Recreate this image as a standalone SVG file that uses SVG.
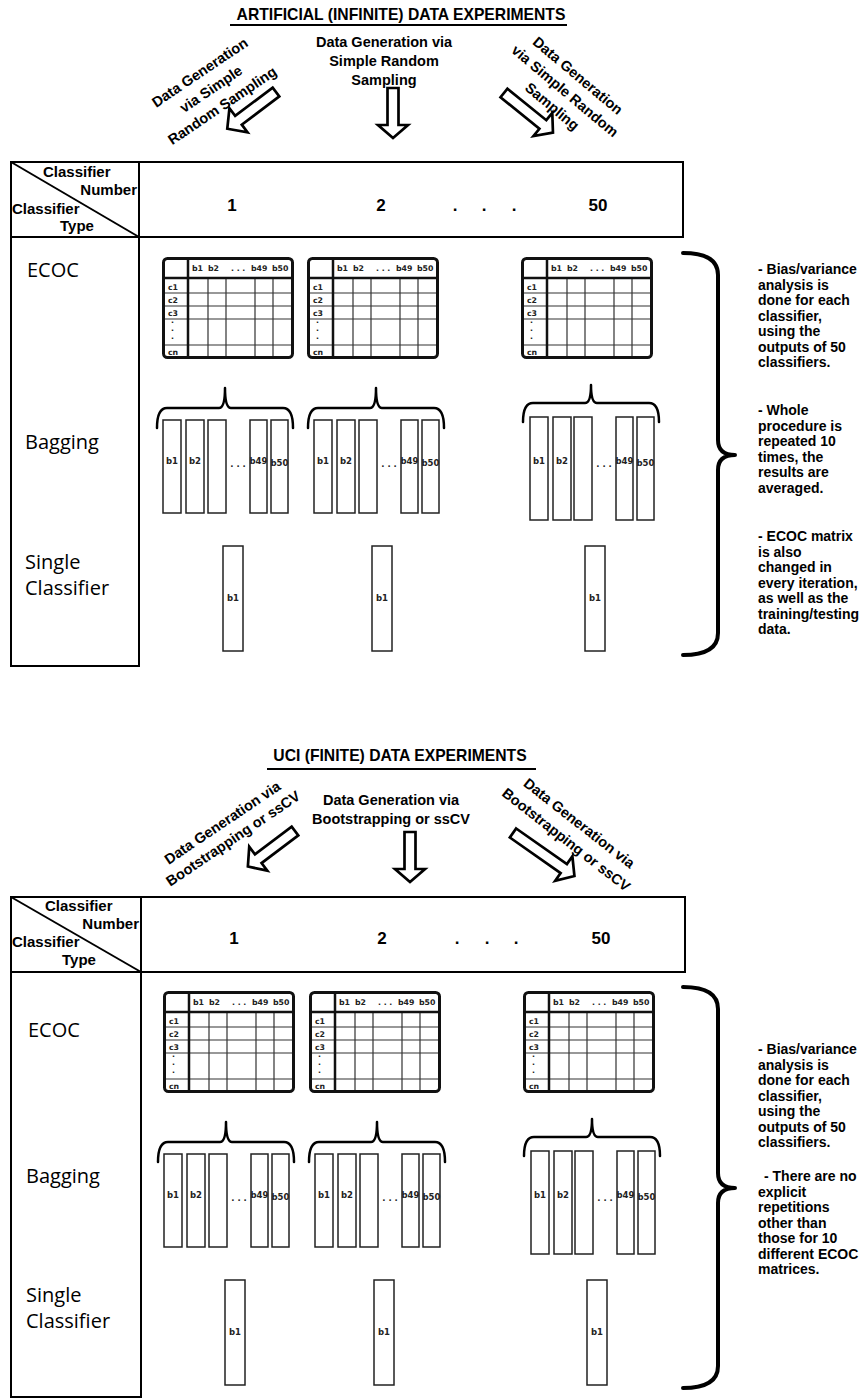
<svg xmlns="http://www.w3.org/2000/svg" width="865" height="1399" viewBox="0 0 865 1399">
<style>
text{font-family:"Liberation Sans",Arial,sans-serif;fill:#000}
.t{font-weight:bold;font-size:15.7px;text-anchor:middle}
.g{font-weight:bold;font-size:14.5px;text-anchor:middle}
.h{font-weight:bold;font-size:15px}
.n{font-weight:bold;font-size:17px;text-anchor:middle}
.r{font-weight:bold;font-size:14px}
.lab{font-family:"Open Sans","Noto Sans",sans-serif;font-size:20px}
.s{font-family:"DejaVu Sans",sans-serif;font-weight:bold;font-size:7.8px;fill:#222}
.sb{font-family:"DejaVu Sans",sans-serif;font-weight:bold;font-size:8.5px;fill:#222;text-anchor:middle}
.box{fill:none;stroke:#000;stroke-width:2}
.thin{fill:none;stroke:#333;stroke-width:1.2}
.thick{fill:none;stroke:#111;stroke-width:3}
.bar{fill:#fff;stroke:#222;stroke-width:1.5}
.brace{fill:none;stroke:#000;stroke-width:2.5;stroke-linecap:round;stroke-linejoin:round}
.big{fill:none;stroke:#000;stroke-width:4;stroke-linecap:round;stroke-linejoin:round}
.arr{fill:#fff;stroke:#000;stroke-width:2.7;stroke-linejoin:miter}
.ul{stroke:#000;stroke-width:2}
</style>
<defs>
<g id="ecoc">
<path class="thin" d="M0,36H132M0,49H132M0,62H132M0,88H132M46,21V102M64,21V102M93,21V102M111,21V102"/>
<path class="thick" style="stroke-width:2.5" d="M1,21H131M26,1V101"/>
<rect class="thick" x="1.5" y="1.5" width="129" height="99" rx="4"/>
<text class="s" x="30" y="14">b1</text>
<text class="s" x="46" y="14">b2</text>
<text class="s" x="69" y="14">. . .</text>
<text class="s" x="89" y="14">b49</text>
<text class="s" x="110" y="14">b50</text>
<text class="s" x="6" y="33">c1</text>
<text class="s" x="6" y="46">c2</text>
<text class="s" x="6" y="59">c3</text>
<text class="s" x="9" y="66">.</text>
<text class="s" x="9" y="74">.</text>
<text class="s" x="9" y="82">.</text>
<text class="s" x="6" y="98">cn</text>
</g>
<g id="bagA">
<path class="brace" d="M0,8 Q0,-12 10,-12 H62 Q68,-12 68,-32 Q68,-12 74,-12 H126 Q136,-12 136,8"/>
<rect class="bar" x="6" y="0" width="18" height="93"/>
<rect class="bar" x="29" y="0" width="18" height="93"/>
<rect class="bar" x="51" y="0" width="18" height="93"/>
<rect class="bar" x="93" y="0" width="17" height="93"/>
<rect class="bar" x="114" y="0" width="17" height="93"/>
<text class="sb" x="15" y="44">b1</text>
<text class="sb" x="38" y="44">b2</text>
<text class="sb" x="81" y="47">. . .</text>
<text class="sb" x="101.5" y="44">b49</text>
<text class="sb" x="122.5" y="46">b50</text>
</g>
<g id="bagB">
<path class="brace" d="M0,5 Q0,-14 10,-14 H62 Q68,-14 68,-32 Q68,-14 74,-14 H126 Q136,-14 136,5"/>
<rect class="bar" x="7" y="0" width="18" height="103"/>
<rect class="bar" x="30" y="0" width="18" height="103"/>
<rect class="bar" x="51" y="0" width="18" height="103"/>
<rect class="bar" x="93" y="0" width="17" height="103"/>
<rect class="bar" x="114" y="0" width="17" height="103"/>
<text class="sb" x="16" y="47">b1</text>
<text class="sb" x="39" y="47">b2</text>
<text class="sb" x="81" y="50">. . .</text>
<text class="sb" x="101.5" y="47">b49</text>
<text class="sb" x="122.5" y="49">b50</text>
</g>
<g id="single">
<rect class="bar" x="0" y="0" width="20" height="105"/>
<text class="sb" x="10" y="55">b1</text>
</g>
</defs>

<!-- ================= TOP SECTION ================= -->
<g id="title-top">
<text class="t" x="401" y="20">ARTIFICIAL (INFINITE) DATA EXPERIMENTS</text>
<line class="ul" x1="230" y1="25" x2="567" y2="25"/>
</g>
<g id="gen-top-center">
<text class="g" x="384" y="47">Data Generation via</text>
<text class="g" x="384" y="66">Simple Random</text>
<text class="g" x="384" y="85">Sampling</text>
</g>
<g id="gen-top-left" transform="translate(211,89) rotate(-34)">
<text class="g" x="0" y="-15">Data Generation</text>
<text class="g" x="0" y="5">via Simple</text>
<text class="g" x="0" y="25">Random Sampling</text>
</g>
<g id="gen-top-right" transform="translate(565,91) rotate(40)">
<text class="g" x="0" y="-15">Data Generation</text>
<text class="g" x="0" y="5">via Simple Random</text>
<text class="g" x="0" y="25">Sampling</text>
</g>

<g id="connectors">
<path class="arr" transform="translate(276,92) rotate(143)" d="M0,-5.5 H47 V-15 L61,0 L47,15 V5.5 H0 Z"/>
<path class="arr" transform="translate(393,88) rotate(90)" d="M0,-5.5 H37 V-15 L50,0 L37,15 V5.5 H0 Z"/>
<path class="arr" transform="translate(504,93) rotate(39)" d="M0,-5.5 H50 V-15 L63,0 L50,15 V5.5 H0 Z"/>
<path class="arr" transform="translate(295,831) rotate(143)" d="M0,-5.5 H46 V-15 L59,0 L46,15 V5.5 H0 Z"/>
<path class="arr" transform="translate(410,832) rotate(90)" d="M0,-5.5 H37 V-15 L50,0 L37,15 V5.5 H0 Z"/>
<path class="arr" transform="translate(513,833) rotate(35)" d="M0,-5.5 H62 V-15 L75,0 L62,15 V5.5 H0 Z"/>
</g>

<g id="header-top">
<rect class="box" x="11" y="162" width="672" height="75"/>
<line class="box" x1="139" y1="162" x2="139" y2="237"/>
<line class="box" x1="11" y1="162" x2="139" y2="237"/>
<text class="h" x="43" y="177">Classifier</text>
<text class="h" x="137" y="195" text-anchor="end">Number</text>
<text class="h" x="12" y="214">Classifier</text>
<text class="h" x="60" y="231">Type</text>
<text class="n" x="232" y="211">1</text>
<text class="n" x="381" y="211">2</text>
<text class="n" x="455" y="211">.</text>
<text class="n" x="484" y="211">.</text>
<text class="n" x="514" y="211">.</text>
<text class="n" x="598" y="211">50</text>
</g>
<g id="types-top">
<rect class="box" x="11" y="237" width="128" height="429"/>
<text class="lab" x="27" y="277">ECOC</text>
<text class="lab" x="25" y="449">Bagging</text>
<text class="lab" x="25" y="569">Single</text>
<text class="lab" x="25" y="595">Classifier</text>
</g>
<g id="ecoc-top">
<use href="#ecoc" x="162" y="257"/>
<use href="#ecoc" x="307" y="257"/>
<use href="#ecoc" x="521" y="257"/>
</g>
<g id="bagging-top">
<use href="#bagA" x="157" y="420"/>
<use href="#bagA" x="308" y="420"/>
<use href="#bagB" x="523" y="417"/>
</g>
<g id="single-top">
<use href="#single" x="223" y="546"/>
<use href="#single" x="372" y="546"/>
<use href="#single" x="585" y="546"/>
</g>
<g id="notes-top">
<path class="big" d="M683,253 Q718,253 718,275 V440 Q718,455 735,455 Q718,455 718,470 V633 Q718,655 683,655"/>
<text class="r" x="758" y="274">- Bias/variance<tspan x="758" dy="15.5">analysis is</tspan><tspan x="758" dy="15.5">done for each</tspan><tspan x="758" dy="15.5">classifier,</tspan><tspan x="758" dy="15.5">using the</tspan><tspan x="758" dy="15.5">outputs of 50</tspan><tspan x="758" dy="15.5">classifiers.</tspan></text>
<text class="r" x="758" y="415">- Whole<tspan x="758" dy="15.5">procedure is</tspan><tspan x="758" dy="15.5">repeated 10</tspan><tspan x="758" dy="15.5">times, the</tspan><tspan x="758" dy="15.5">results are</tspan><tspan x="758" dy="15.5">averaged.</tspan></text>
<text class="r" x="758" y="541">- ECOC matrix<tspan x="758" dy="15.5">is also</tspan><tspan x="758" dy="15.5">changed in</tspan><tspan x="758" dy="15.5">every iteration,</tspan><tspan x="758" dy="15.5">as well as the</tspan><tspan x="758" dy="15.5">training/testing</tspan><tspan x="758" dy="15.5">data.</tspan></text>
</g>

<!-- ================= BOTTOM SECTION ================= -->
<g id="title-bottom">
<text class="t" x="400" y="761">UCI (FINITE) DATA EXPERIMENTS</text>
<line class="ul" x1="267" y1="769" x2="536" y2="769"/>
</g>
<g id="gen-bottom-center">
<text class="g" x="391" y="805">Data Generation via</text>
<text class="g" x="391" y="824">Bootstrapping or ssCV</text>
</g>
<g id="gen-bottom-left" transform="translate(228,831) rotate(-34)">
<text class="g" x="0" y="-5">Data Generation via</text>
<text class="g" x="0" y="14">Bootstrapping or ssCV</text>
</g>
<g id="gen-bottom-right" transform="translate(573,831) rotate(38)">
<text class="g" x="0" y="-5">Data Generation via</text>
<text class="g" x="0" y="16">Bootstrapping or ssCV</text>
</g>

<g id="header-bottom">
<rect class="box" x="11" y="897" width="674" height="75"/>
<line class="box" x1="141" y1="897" x2="141" y2="972"/>
<line class="box" x1="11" y1="897" x2="141" y2="972"/>
<text class="h" x="45" y="911">Classifier</text>
<text class="h" x="139" y="929" text-anchor="end">Number</text>
<text class="h" x="12" y="947">Classifier</text>
<text class="h" x="62" y="965">Type</text>
<text class="n" x="234" y="944">1</text>
<text class="n" x="382" y="944">2</text>
<text class="n" x="457" y="944">.</text>
<text class="n" x="487" y="944">.</text>
<text class="n" x="516" y="944">.</text>
<text class="n" x="601" y="944">50</text>
</g>
<g id="types-bottom">
<rect class="box" x="11" y="972" width="130" height="425"/>
<text class="lab" x="28" y="1037">ECOC</text>
<text class="lab" x="26" y="1183">Bagging</text>
<text class="lab" x="26" y="1302">Single</text>
<text class="lab" x="26" y="1328">Classifier</text>
</g>
<g id="ecoc-bottom">
<use href="#ecoc" x="163" y="991"/>
<use href="#ecoc" x="309" y="991"/>
<use href="#ecoc" x="523" y="991"/>
</g>
<g id="bagging-bottom">
<use href="#bagA" x="158" y="1154"/>
<use href="#bagA" x="309" y="1154"/>
<use href="#bagB" x="524" y="1151"/>
</g>
<g id="single-bottom">
<use href="#single" x="225" y="1280"/>
<use href="#single" x="374" y="1280"/>
<use href="#single" x="587" y="1280"/>
</g>
<g id="notes-bottom">
<path class="big" d="M683,987 Q718,987 718,1009 V1173 Q718,1188 735,1188 Q718,1188 718,1203 V1366 Q718,1388 683,1388"/>
<text class="r" x="758" y="1054">- Bias/variance<tspan x="758" dy="15.5">analysis is</tspan><tspan x="758" dy="15.5">done for each</tspan><tspan x="758" dy="15.5">classifier,</tspan><tspan x="758" dy="15.5">using the</tspan><tspan x="758" dy="15.5">outputs of 50</tspan><tspan x="758" dy="15.5">classifiers.</tspan></text>
<text class="r" x="764" y="1181">- There are no<tspan x="758" dy="15.5">explicit</tspan><tspan x="758" dy="15.5">repetitions</tspan><tspan x="758" dy="15.5">other than</tspan><tspan x="758" dy="15.5">those for 10</tspan><tspan x="758" dy="15.5">different ECOC</tspan><tspan x="758" dy="15.5">matrices.</tspan></text>
</g>
</svg>
